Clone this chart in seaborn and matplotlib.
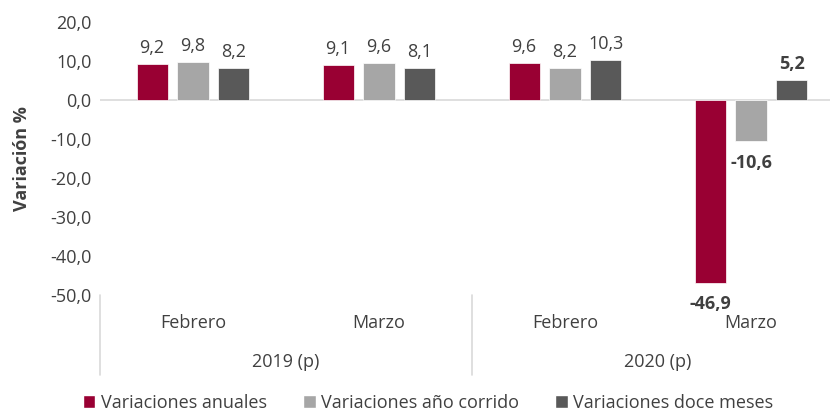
import pandas as pd
import matplotlib.pyplot as plt
import matplotlib.transforms as mtransforms
from matplotlib.patches import Patch
import seaborn as sns

# data
months = ["Febrero", "Marzo", "Febrero", "Marzo"]
years = ["2019 (p)", "2020 (p)"]
series = ["Variaciones anuales", "Variaciones año corrido", "Variaciones doce meses"]
anuales = [9.2, 9.1, 9.6, -46.9]
anio_corrido = [9.8, 9.6, 8.2, -10.6]
doce_meses = [8.2, 8.1, 10.3, 5.2]
colors = ["#990033", "#A6A6A6", "#595959"]
yticks = [20, 10, 0, -10, -20, -30, -40, -50]

sns.set_style("white")
plt.rcParams["font.family"] = ["Open Sans", "DejaVu Sans"]
TXT = "#404040"
FS = 13

# long table for seaborn
cats = [f"{m}\n{i}" for i, m in enumerate(months)]
rows = []
for name, vals in zip(series, [anuales, anio_corrido, doce_meses]):
    for c, v in zip(cats, vals):
        rows.append({"cat": c, "serie": name, "valor": v})
df = pd.DataFrame(rows)

fig = plt.figure(figsize=(8.3, 4.13), dpi=100)
ax = fig.add_axes([100 / 830, 1 - 295 / 413, 744 / 830, 273 / 413])

sns.barplot(data=df, x="cat", y="valor", hue="serie", order=cats, hue_order=series,
            palette=colors, saturation=1, width=0.66, gap=0.24, ax=ax, legend=False,
            edgecolor="white", linewidth=0.5)

ax.set_ylim(-50, 20)
ax.set_xlim(-0.5, 3.5)
ax.set_yticks(yticks)
ax.set_yticklabels([f"{v:.1f}".replace(".", ",") for v in yticks], fontsize=FS, color=TXT)
ax.tick_params(axis="y", length=0, pad=6)
ax.set_xticks([])
ax.set_xlabel("")
ax.set_ylabel("Variación %", fontsize=FS, fontweight="bold", color=TXT, labelpad=14)
for s in ax.spines.values():
    s.set_visible(False)
ax.axhline(0, color="#D9D9D9", lw=1.2, zorder=0.5)

# data labels
for cont, vals in zip(ax.containers, [anuales, anio_corrido, doce_meses]):
    for i, (bar, v) in enumerate(zip(cont, vals)):
        x = bar.get_x() + bar.get_width() / 2
        bold = i == 3
        off = 5 if v >= 0 else -9
        ax.annotate(f"{v:.1f}".replace(".", ","), (x, v), xytext=(0, off),
                    textcoords="offset points", ha="center",
                    va="bottom" if v >= 0 else "top", fontsize=FS, color=TXT,
                    fontweight="bold" if bold else "normal")

# multi-level category axis
trans = mtransforms.blended_transform_factory(ax.transData, ax.transAxes)
for i, m in enumerate(months):
    ax.text(i, -0.103, m, transform=trans, ha="center", va="center", fontsize=FS, color=TXT)
for j, y in enumerate(years):
    ax.text(2 * j + 0.5, -0.245, y, transform=trans, ha="center", va="center",
            fontsize=FS, color=TXT)
for xs in [-0.5, 1.5, 3.5]:
    ax.plot([xs, xs], [0, -0.293], transform=trans, color="#D9D9D9", lw=1.2, clip_on=False)

handles = [Patch(facecolor=c, label=n) for c, n in zip(colors, series)]
fig.legend(handles=handles, loc="center", bbox_to_anchor=(428 / 830, 1 - 403 / 413), ncol=3,
           frameon=False, fontsize=FS, handlelength=0.7, handleheight=0.7,
           handletextpad=0.3, columnspacing=2.0, labelcolor=TXT)

fig.savefig("out.png", dpi=100)
